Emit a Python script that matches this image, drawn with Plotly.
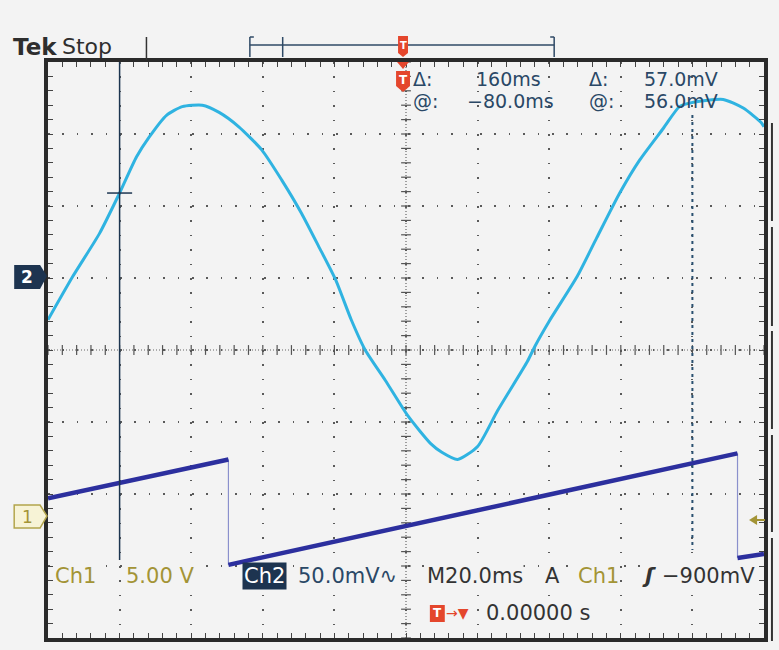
import numpy as np
import plotly.graph_objects as go

# ---------------- data ----------------
# Ch1 (sawtooth), time in ms, volts relative to Ch1 ground marker, 5 V/div
ch1_t = [-100, -49.6, -49.6, 92.6, 92.6, 100]
ch1_v = [1.15, 3.85, -3.47, 4.27, -2.99, -2.72]
ch1_scale = 5.0          # V/div
ch1_offset = -2.29       # div

# Ch2 (sine-like), time in ms, mV relative to Ch2 ground marker, 50 mV/div
ch2_t = [-100, -93.1, -85.6, -80, -75.3, -71.7, -66.9, -62.5, -56.9, -52.2, -46.7,
         -40.3, -34.7, -29.2, -24.4, -19.7, -15.3, -11.4, -5.8, 0.6, 6.9, 10.0,
         14.4, 20.0, 25.6, 33.9, 36.1, 40.0, 47.8, 53.3, 59.7, 65.3, 71.9, 76.4,
         80.3, 88.6, 94.2, 99.2, 100]
ch2_mv = [-29, 1, 31, 59, 84, 98, 113, 119, 120, 115, 105,
          89, 68, 45, 22, -1, -29, -50, -71, -96, -115, -121,
          -126, -117, -92, -58, -47, -30, 1, 28, 59, 82, 104, 119,
          122, 124, 118, 108, 105]
ch2_scale = 50.0         # mV/div
ch2_offset = 1.0         # div

cursor_t = [-80.0, 80.0]     # ms
time_div = 20.0              # ms/div

# ---------------- geometry helpers ----------------
W, H = 779, 650
L, R, T, B = 48, 768, 62, 638
BG = "#f3f3f3"


def px(x):
    return (x - L) / (R - L)


def py(y):
    return (B - y) / (B - T)


def ydiv(y):
    return (350 - y) / 72.0


TXT = "#2a4866"
DARK = "#333333"
OLIVE = "#a39436"
ORANGE = "#e4462c"
NAVY = "#1d3450"
FONT = "DejaVu Sans"

fig = go.Figure()

# center cross (fine dotted with small ticks)
fig.add_shape(type="line", x0=-100, x1=100, y0=0, y1=0, line=dict(color="#666", width=1.2, dash="1px,2px"), layer="below")
fig.add_shape(type="line", x0=0, x1=0, y0=-4, y1=4, line=dict(color="#666", width=1.2, dash="1px,2px"), layer="below")
tx = np.arange(-100, 100.01, time_div / 5)
ty = np.arange(-4, 4.001, 0.2)
fig.add_trace(go.Scatter(x=tx, y=np.zeros_like(tx), mode="markers", hoverinfo="skip",
                         marker=dict(symbol="line-ns", size=7, line=dict(color="#555", width=1.2))))
fig.add_trace(go.Scatter(x=np.zeros_like(ty), y=ty, mode="markers", hoverinfo="skip",
                         marker=dict(symbol="line-ew", size=7, line=dict(color="#555", width=1.2))))

# Ch1 sawtooth
ch1_div = [v / ch1_scale + ch1_offset for v in ch1_v]
rx, ry, dx, dy = [], [], [], []
for i in (0, 2, 4):
    rx += [ch1_t[i], ch1_t[i + 1], None]
    ry += [ch1_div[i], ch1_div[i + 1], None]
for i in (1, 3):
    dx += [ch1_t[i], ch1_t[i + 1], None]
    dy += [ch1_div[i], ch1_div[i + 1], None]
fig.add_trace(go.Scatter(x=dx, y=dy, mode="lines", line=dict(color="#8a90cc", width=1.2), hoverinfo="skip"))
fig.add_trace(go.Scatter(x=rx, y=ry, mode="lines", line=dict(color="#2c2f9e", width=4.5), hoverinfo="skip"))

# Ch2 waveform
ch2_div = [m / ch2_scale + ch2_offset for m in ch2_mv]
fig.add_trace(go.Scatter(x=ch2_t, y=ch2_div, mode="lines", line=dict(color="#2fb3e1", width=3, shape="spline", smoothing=0.6),
                         hoverinfo="skip"))

# cursors
fig.add_shape(type="line", x0=cursor_t[0], x1=cursor_t[0], y0=4, y1=ydiv(560), line=dict(color="#1c3550", width=1.5))
fig.add_shape(type="line", x0=cursor_t[1], x1=cursor_t[1], y0=ydiv(115), y1=ydiv(550), line=dict(color="#2a5070", width=2, dash="3px,4px"))
yc = float(np.interp(cursor_t[0], ch2_t, ch2_div))
fig.add_shape(type="line", x0=cursor_t[0] - 3.5, x1=cursor_t[0] + 3.5, y0=yc, y1=yc, line=dict(color="#1c3550", width=1.5))


def txt(s, x, y, color, size=21, anchor="left", **kw):
    kw.setdefault("borderpad", 0)
    fig.add_annotation(text=s, x=px(x), y=py(y), xref="paper", yref="paper", xanchor=anchor, yanchor="middle",
                       showarrow=False, font=dict(family=FONT, size=size, color=color), **kw)


def poly(pts, fill, line=None, width=0):
    path = "M " + " L ".join(f"{px(a):.5f},{py(b):.5f}" for a, b in pts) + " Z"
    fig.add_shape(type="path", path=path, xref="paper", yref="paper", fillcolor=fill,
                  line=dict(color=line or fill, width=width))


def seg(x0, y0, x1, y1, color, width=1.5, dash=None):
    fig.add_shape(type="line", x0=px(x0), x1=px(x1), y0=py(y0), y1=py(y1), xref="paper", yref="paper",
                  line=dict(color=color, width=width, dash=dash))


# top: Tek Stop and record bar
txt("<b>Tek</b>", 12, 47, "#2e2e2e", size=23)
txt("Stop", 61, 47, "#2e2e2e", size=22)
seg(147, 37, 147, 60, "#333", 1.5)
seg(251, 37, 251, 57, "#2f4a66", 1.5)
seg(251, 37, 255, 37, "#2f4a66", 1.5)
seg(557, 37, 557, 57, "#2f4a66", 1.5)
seg(553, 37, 557, 37, "#2f4a66", 1.5)
seg(251, 45, 557, 45, "#2f4a66", 1.5)
seg(284, 37, 284, 57, "#2f4a66", 1.5)
poly([(400, 36), (410, 36), (410, 53), (405, 57), (400, 53)], ORANGE)
txt("<b>T</b>", 405, 45, "white", size=10, anchor="center")
# trigger position marker
poly([(399, 62), (411, 62), (405, 69)], ORANGE)
poly([(398, 71), (412, 71), (412, 86), (405, 92), (398, 86)], ORANGE)
txt("<b>T</b>", 405, 80, "white", size=12, anchor="center")

# readouts
RS = 19
txt("Δ:", 414, 79.5, TXT, size=RS)
txt("160ms", 477, 79.5, TXT, size=RS)
txt("Δ:", 591, 79.5, TXT, size=RS)
txt("57.0mV", 646, 79.5, TXT, size=RS)
txt("@:", 414, 101.5, TXT, size=RS)
txt("−80.0ms", 468, 101.5, TXT, size=RS)
txt("@:", 591, 101.5, TXT, size=RS)
txt("56.0mV", 646, 101.5, TXT, size=RS)

# channel markers
poly([(14, 265), (40, 265), (47, 276), (40, 289), (14, 289)], NAVY)
txt("<b>2</b>", 27, 277, "white", size=17, anchor="center")
poly([(14, 505), (40, 505), (47, 516), (40, 528), (14, 528)], "#f7f3d6", line="#b3a54c", width=1.5)
txt("1", 27, 517, OLIVE, size=17, anchor="center")

# trigger level arrow
seg(758, 520, 769, 520, OLIVE, 2)
poly([(753, 520), (761, 515), (761, 525)], OLIVE)

# bottom status line
txt("Ch1", 54, 576, OLIVE, bgcolor=BG)
txt("5.00 V", 125, 576, OLIVE, bgcolor=BG)
txt("Ch2", 243, 576, "white", bgcolor=NAVY, borderpad=1)
txt("50.0mV∿", 298, 576, TXT, bgcolor=BG)
txt("M20.0ms", 428, 576, DARK, bgcolor=BG)
txt("A", 547, 576, DARK, bgcolor=BG)
txt("Ch1", 580, 576, OLIVE, bgcolor=BG)
txt("<b><i>ʃ</i></b>", 644, 576, DARK, bgcolor=BG)
txt("−900mV", 664, 576, DARK, bgcolor=BG)
poly([(432, 605), (447, 605), (447, 622), (432, 622)], ORANGE)
txt("<b>T</b>", 439.5, 613, "white", size=12, anchor="center")
txt("→▼", 447, 613, ORANGE, size=14)
txt("0.00000 s", 487, 613, DARK, bgcolor=BG)

# right bezel edge
for a, b in [(123, 221), (227, 326), (331, 429), (435, 532), (538, 641)]:
    seg(776, a, 776, b, "#333", 2)

axis_common = dict(showline=True, linewidth=4, linecolor="#2a2a2a", mirror="allticks",
                   ticks="inside", ticklen=5, tickwidth=1.3, tickcolor="#444",
                   showticklabels=False, zeroline=False, showgrid=True,
                   gridcolor="#5a5a5a", gridwidth=1.6, griddash="1.6px,12.8px")
fig.update_xaxes(range=[-100, 100], dtick=time_div, tick0=0,
                 minor=dict(dtick=time_div / 5, ticks="inside", ticklen=5, tickcolor="#444", showgrid=False),
                 **axis_common)
fig.update_yaxes(range=[-4, 4], dtick=1, tick0=0,
                 minor=dict(dtick=0.2, ticks="inside", ticklen=5, tickcolor="#444", showgrid=False),
                 **axis_common)

fig.update_layout(width=W, height=H, margin=dict(l=L, r=W - R, t=T, b=H - B),
                  paper_bgcolor=BG, plot_bgcolor=BG, showlegend=False)

fig.write_html("out.html")
